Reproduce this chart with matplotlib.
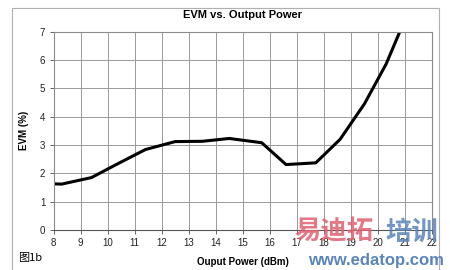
import matplotlib
matplotlib.use("Agg")
import matplotlib.pyplot as plt
from matplotlib.patches import Rectangle

# output power (dBm) and EVM (%)
power = [8.0, 8.3, 9.4, 10.4, 11.4, 12.5, 13.5, 14.5, 15.7, 16.6, 17.7, 18.6, 19.5, 20.3, 20.9]
evm = [1.63, 1.62, 1.85, 2.35, 2.84, 3.12, 3.13, 3.23, 3.08, 2.31, 2.37, 3.2, 4.45, 5.85, 7.2]

x_ticks = list(range(8, 23))
y_ticks = list(range(0, 8))

plt.rcParams['font.family'] = ['Liberation Sans', 'DejaVu Sans']

fig = plt.figure(figsize=(4.5, 2.7), dpi=100)
fig.patch.set_facecolor('white')
ax = fig.add_axes([0.119, 0.148, 0.841, 0.735])

ax.plot(power, evm, color='black', linewidth=2.2, solid_joinstyle='round')

ax.set_xlim(8, 22)
ax.set_ylim(0, 7)
ax.set_xticks(x_ticks)
ax.set_yticks(y_ticks)
ax.grid(True, color='#9a9a9a', linewidth=0.7)
ax.set_axisbelow(True)
for s in ax.spines.values():
    s.set_color('#8a8a8a')
    s.set_linewidth(0.8)
ax.spines['bottom'].set_color('#555555')
ax.tick_params(axis='both', labelsize=7, color='#666666', length=3, width=0.7, pad=3, labelcolor='#222222')

ax.set_title('EVM vs. Output Power', fontsize=8, fontweight='bold', pad=10)
ax.set_ylabel('EVM (%)', fontsize=7, fontweight='bold', labelpad=8)
ax.set_xlabel('Ouput Power (dBm)', fontsize=7, fontweight='bold', labelpad=6)

# outer chart frame
fig.patches.append(Rectangle((12 / 450, -0.02), 427 / 450, 1.005 - 4 / 270, transform=fig.transFigure,
                             fill=False, edgecolor='#b0b0b0', linewidth=0.8))

fig.text(18 / 450, 1 - 258 / 270, '图1b', fontsize=8, va='center', ha='left',
         family=['Noto Sans CJK SC', 'DejaVu Sans'])

# watermark
fig.text(294 / 450, 1 - 232 / 270, '易迪拓', fontsize=19, fontweight='bold', color='#e0606e', alpha=0.85,
         va='center', ha='left', family=['Noto Sans CJK SC', 'DejaVu Sans'])
fig.text(385 / 450, 1 - 232 / 270, '培训', fontsize=19, fontweight='bold', color='#5a84ba', alpha=0.85,
         va='center', ha='left', family=['Noto Sans CJK SC', 'DejaVu Sans'])
fig.text(444 / 450, 1 - 261 / 270, 'www.edatop.com', fontsize=12, fontweight='bold', color='#5a84ba',
         va='center', ha='right')

fig.savefig('out.png', dpi=100)
